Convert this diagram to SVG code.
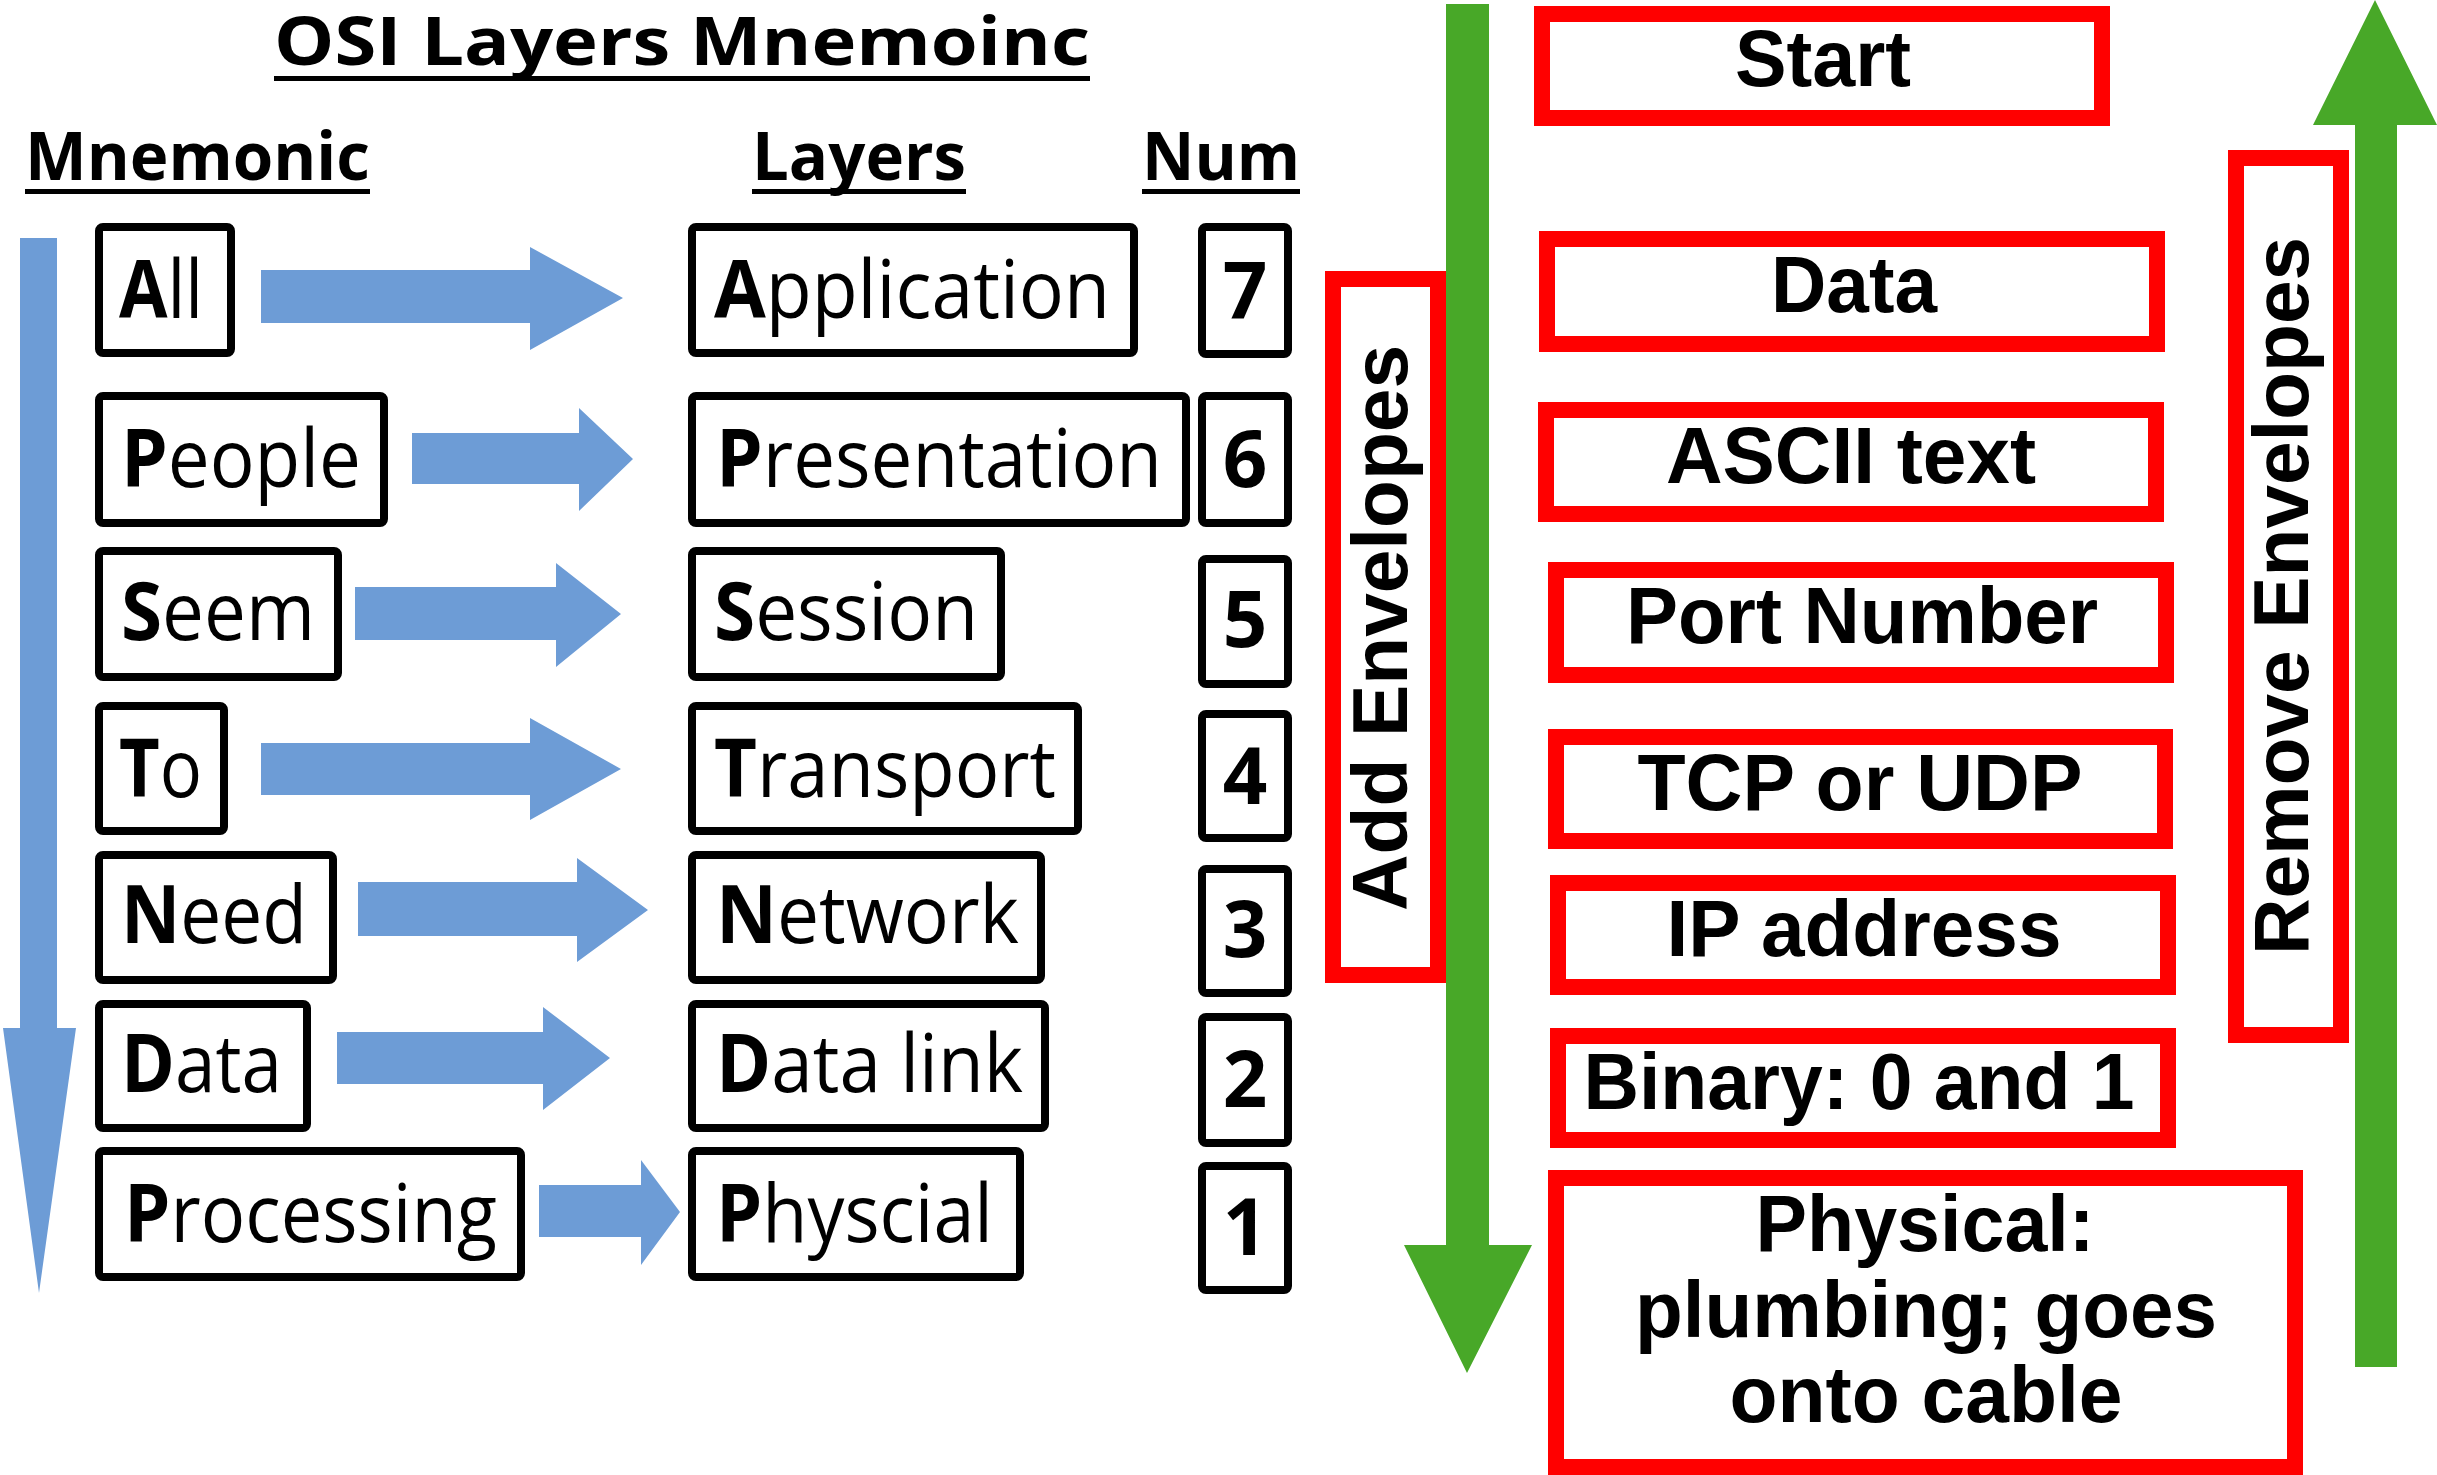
<svg xmlns="http://www.w3.org/2000/svg" width="2437" height="1475" viewBox="0 0 2437 1475">
  <style>
    .box { fill: #ffffff; stroke: #000000; stroke-width: 8; }
    .rbox { fill: #ffffff; stroke: #ff0000; stroke-width: 16; }
    .blue { fill: #6d9cd6; }
    .green { fill: #48a828; }
    .head { font-family: "Open Sans", "DejaVu Sans", sans-serif; font-weight: 700; font-size: 66px; fill: #000; }
    .word { font-family: "Open Sans", "DejaVu Sans", sans-serif; font-weight: 400; font-size: 80px; fill: #000; }
    .word tspan.b { font-weight: 700; }
    .num { font-family: "Open Sans", "DejaVu Sans", sans-serif; font-weight: 700; font-size: 78px; fill: #000; text-anchor: middle; }
    .lbl { font-family: "Liberation Sans", Arial, sans-serif; font-weight: 700; font-size: 80px; fill: #000; text-anchor: middle; }
    .side { font-family: "Liberation Sans", Arial, sans-serif; font-weight: 700; font-size: 78px; fill: #000; text-anchor: middle; }
    .ul { fill: #000; }
  </style>

  <rect width="2437" height="1475" fill="#ffffff"/>

  <!-- Headings -->
  <g id="title">
    <text class="head" x="274" y="65" textLength="816" lengthAdjust="spacingAndGlyphs">OSI Layers Mnemoinc</text>
    <rect class="ul" x="274" y="76" width="816" height="5"/>
  </g>
  <g id="hdr-mnemonic">
    <text class="head" x="25" y="180" textLength="345" lengthAdjust="spacingAndGlyphs">Mnemonic</text>
    <rect class="ul" x="25" y="189" width="345" height="5"/>
  </g>
  <g id="hdr-layers">
    <text class="head" x="752" y="180" textLength="214" lengthAdjust="spacingAndGlyphs">Layers</text>
    <rect class="ul" x="752" y="189" width="214" height="5"/>
  </g>
  <g id="hdr-num">
    <text class="head" x="1142" y="180" textLength="158" lengthAdjust="spacingAndGlyphs">Num</text>
    <rect class="ul" x="1142" y="189" width="158" height="5"/>
  </g>

  <!-- Connectors: block arrows -->
  <g id="connectors">
    <!-- top-to-bottom arrow beside the mnemonic column -->
    <polygon class="blue" points="20,238 57,238 57,1028 76,1028 39,1293 3,1028 20,1028"/>
    <!-- mnemonic word to layer name -->
    <polygon class="blue" points="261,270 530,270 530,247 623,298 530,350 530,323 261,323"/>
    <polygon class="blue" points="412,433 579,433 579,408 633,459 579,511 579,484 412,484"/>
    <polygon class="blue" points="355,587 556,587 556,563 621,614 556,667 556,640 355,640"/>
    <polygon class="blue" points="261,743 530,743 530,718 621,769 530,820 530,795 261,795"/>
    <polygon class="blue" points="358,882 577,882 577,858 648,910 577,962 577,936 358,936"/>
    <polygon class="blue" points="337,1032 543,1032 543,1007 610,1058 543,1110 543,1084 337,1084"/>
    <polygon class="blue" points="539,1185 641,1185 641,1160 680,1212 641,1265 641,1237 539,1237"/>
    <!-- add envelopes: downward -->
    <polygon class="green" points="1446,4 1489,4 1489,1245 1532,1245 1467,1373 1404,1245 1446,1245"/>
    <!-- remove envelopes: upward -->
    <polygon class="green" points="2355,1367 2397,1367 2397,125 2437,125 2375,0 2313,125 2355,125"/>
  </g>

  <!-- Mnemonic words -->
  <g id="m-all"><rect class="box" x="99" y="227" width="132" height="126" rx="4"/>
    <text class="word" x="119" y="318" textLength="84" lengthAdjust="spacingAndGlyphs"><tspan class="b">A</tspan>ll</text></g>
  <g id="m-people"><rect class="box" x="99" y="396" width="285" height="127" rx="4"/>
    <text class="word" x="121" y="487" textLength="240" lengthAdjust="spacingAndGlyphs"><tspan class="b">P</tspan>eople</text></g>
  <g id="m-seem"><rect class="box" x="99" y="551" width="239" height="126" rx="4"/>
    <text class="word" x="121" y="640" textLength="194" lengthAdjust="spacingAndGlyphs"><tspan class="b">S</tspan>eem</text></g>
  <g id="m-to"><rect class="box" x="99" y="706" width="125" height="125" rx="4"/>
    <text class="word" x="119" y="797" textLength="83" lengthAdjust="spacingAndGlyphs"><tspan class="b">T</tspan>o</text></g>
  <g id="m-need"><rect class="box" x="99" y="855" width="234" height="125" rx="4"/>
    <text class="word" x="121" y="943" textLength="186" lengthAdjust="spacingAndGlyphs"><tspan class="b">N</tspan>eed</text></g>
  <g id="m-data"><rect class="box" x="99" y="1004" width="208" height="124" rx="4"/>
    <text class="word" x="121" y="1092" textLength="161" lengthAdjust="spacingAndGlyphs"><tspan class="b">D</tspan>ata</text></g>
  <g id="m-processing"><rect class="box" x="99" y="1151" width="422" height="126" rx="4"/>
    <text class="word" x="124" y="1242" textLength="373" lengthAdjust="spacingAndGlyphs"><tspan class="b">P</tspan>rocessing</text></g>

  <!-- Layer names -->
  <g id="l-application"><rect class="box" x="692" y="227" width="442" height="126" rx="4"/>
    <text class="word" x="714" y="318" textLength="396" lengthAdjust="spacingAndGlyphs"><tspan class="b">A</tspan>pplication</text></g>
  <g id="l-presentation"><rect class="box" x="692" y="396" width="494" height="127" rx="4"/>
    <text class="word" x="716" y="487" textLength="446" lengthAdjust="spacingAndGlyphs"><tspan class="b">P</tspan>resentation</text></g>
  <g id="l-session"><rect class="box" x="692" y="551" width="309" height="126" rx="4"/>
    <text class="word" x="714" y="640" textLength="264" lengthAdjust="spacingAndGlyphs"><tspan class="b">S</tspan>ession</text></g>
  <g id="l-transport"><rect class="box" x="692" y="706" width="386" height="125" rx="4"/>
    <text class="word" x="714" y="797" textLength="342" lengthAdjust="spacingAndGlyphs"><tspan class="b">T</tspan>ransport</text></g>
  <g id="l-network"><rect class="box" x="692" y="855" width="349" height="125" rx="4"/>
    <text class="word" x="716" y="943" textLength="303" lengthAdjust="spacingAndGlyphs"><tspan class="b">N</tspan>etwork</text></g>
  <g id="l-datalink"><rect class="box" x="692" y="1004" width="353" height="124" rx="4"/>
    <text class="word" x="716" y="1092" textLength="307" lengthAdjust="spacingAndGlyphs"><tspan class="b">D</tspan>ata link</text></g>
  <g id="l-physcial"><rect class="box" x="692" y="1151" width="328" height="126" rx="4"/>
    <text class="word" x="716" y="1242" textLength="277" lengthAdjust="spacingAndGlyphs"><tspan class="b">P</tspan>hyscial</text></g>

  <!-- Layer numbers -->
  <g id="n7"><rect class="box" x="1202" y="227" width="86" height="127" rx="4"/><text class="num" x="1245" y="318">7</text></g>
  <g id="n6"><rect class="box" x="1202" y="396" width="86" height="127" rx="4"/><text class="num" x="1245" y="487">6</text></g>
  <g id="n5"><rect class="box" x="1202" y="559" width="86" height="125" rx="4"/><text class="num" x="1245" y="647">5</text></g>
  <g id="n4"><rect class="box" x="1202" y="714" width="86" height="124" rx="4"/><text class="num" x="1245" y="804">4</text></g>
  <g id="n3"><rect class="box" x="1202" y="869" width="86" height="124" rx="4"/><text class="num" x="1245" y="957">3</text></g>
  <g id="n2"><rect class="box" x="1202" y="1017" width="86" height="126" rx="4"/><text class="num" x="1245" y="1107">2</text></g>
  <g id="n1"><rect class="box" x="1202" y="1166" width="86" height="124" rx="4"/><text class="num" x="1245" y="1255">1</text></g>

  <!-- Envelope direction labels -->
  <g id="add-envelopes"><rect class="rbox" x="1333" y="279" width="105" height="696"/>
    <text class="side" transform="translate(1407,628) rotate(-90)" textLength="566" lengthAdjust="spacingAndGlyphs">Add Envelopes</text></g>
  <g id="remove-envelopes"><rect class="rbox" x="2236" y="158" width="105" height="877"/>
    <text class="side" transform="translate(2308,596) rotate(-90)" textLength="718" lengthAdjust="spacingAndGlyphs">Remove Envelopes</text></g>

  <!-- Encapsulation steps -->
  <g id="s-start"><rect class="rbox" x="1542" y="14" width="560" height="104"/>
    <text class="lbl" x="1823" y="86" textLength="176" lengthAdjust="spacingAndGlyphs">Start</text></g>
  <g id="s-data"><rect class="rbox" x="1547" y="239" width="610" height="105"/>
    <text class="lbl" x="1854" y="312" textLength="166" lengthAdjust="spacingAndGlyphs">Data</text></g>
  <g id="s-ascii"><rect class="rbox" x="1546" y="410" width="610" height="104"/>
    <text class="lbl" x="1851" y="483" textLength="370" lengthAdjust="spacingAndGlyphs">ASCII text</text></g>
  <g id="s-port"><rect class="rbox" x="1556" y="570" width="610" height="105"/>
    <text class="lbl" x="1862" y="643" textLength="472" lengthAdjust="spacingAndGlyphs">Port Number</text></g>
  <g id="s-tcp"><rect class="rbox" x="1556" y="737" width="609" height="104"/>
    <text class="lbl" x="1860" y="810" textLength="445" lengthAdjust="spacingAndGlyphs">TCP or UDP</text></g>
  <g id="s-ip"><rect class="rbox" x="1558" y="883" width="610" height="104"/>
    <text class="lbl" x="1864" y="956" textLength="395" lengthAdjust="spacingAndGlyphs">IP address</text></g>
  <g id="s-binary"><rect class="rbox" x="1558" y="1036" width="610" height="104"/>
    <text class="lbl" x="1859" y="1109" textLength="551" lengthAdjust="spacingAndGlyphs">Binary: 0 and 1</text></g>
  <g id="s-physical"><rect class="rbox" x="1556" y="1178" width="739" height="289"/>
    <text class="lbl" x="1925" y="1251" textLength="339" lengthAdjust="spacingAndGlyphs">Physical:</text>
    <text class="lbl" x="1926" y="1337" textLength="582" lengthAdjust="spacingAndGlyphs">plumbing; goes</text>
    <text class="lbl" x="1926" y="1422" textLength="393" lengthAdjust="spacingAndGlyphs">onto cable</text></g>
</svg>
